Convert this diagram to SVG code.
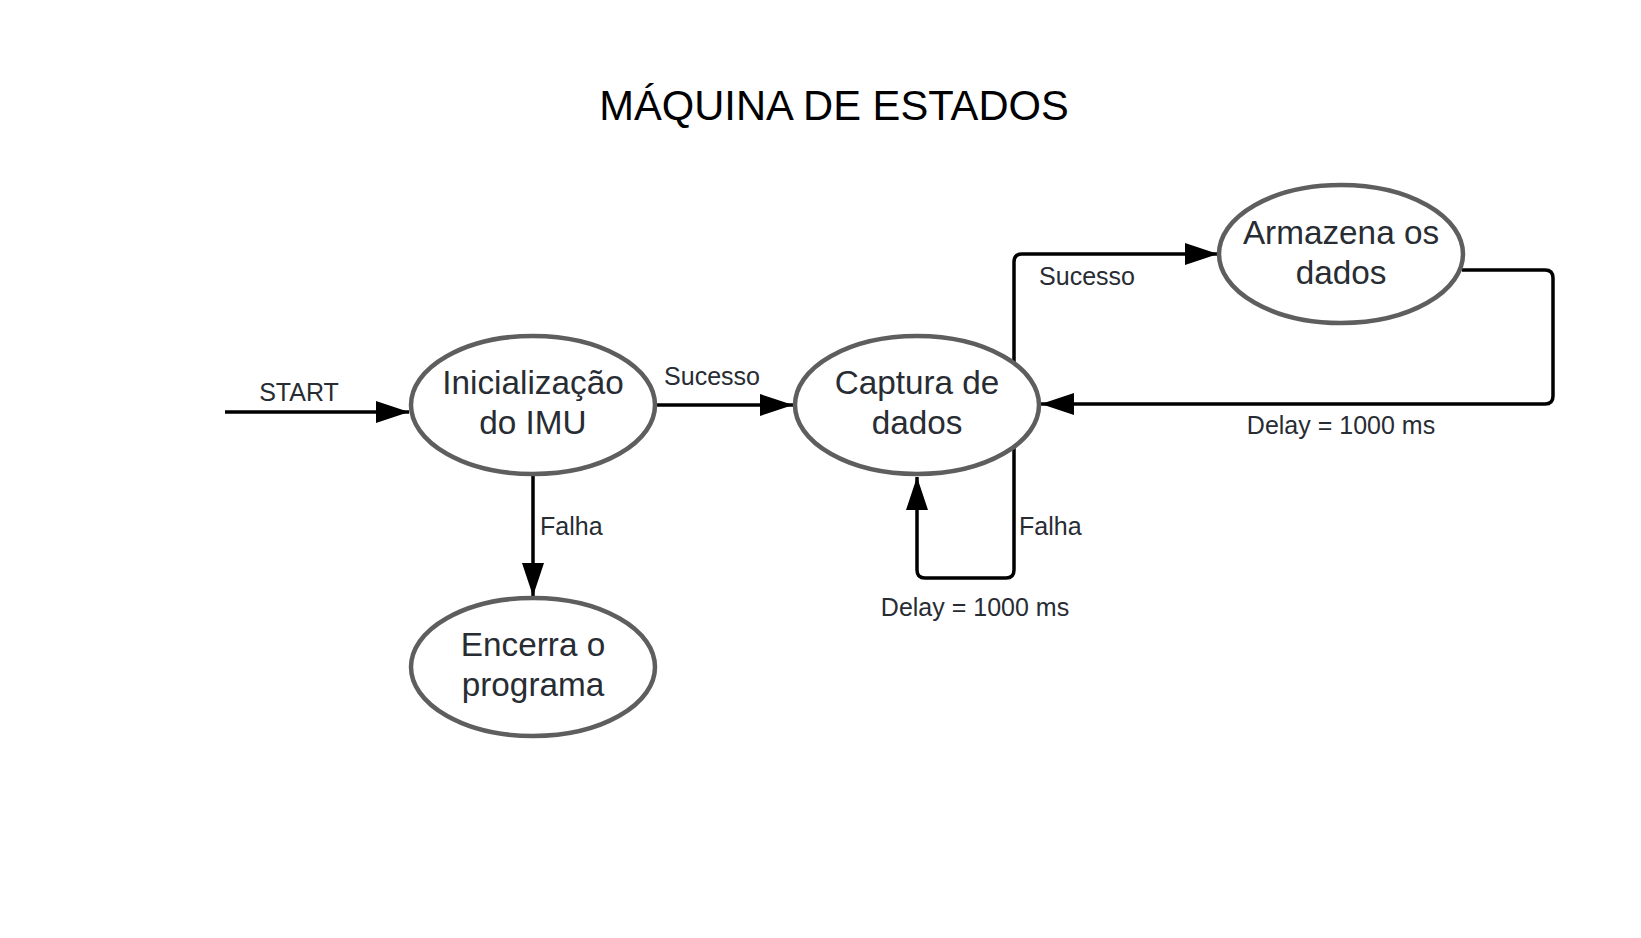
<svg xmlns="http://www.w3.org/2000/svg" width="1641" height="938" viewBox="0 0 1641 938">
<style>
.node ellipse{fill:#ffffff;stroke:#5e5e5e;stroke-width:4.5}
.node text{font-family:"Liberation Sans",Arial,sans-serif;font-size:33.3px;fill:#282c33;text-anchor:middle}
.edge{fill:none;stroke:#000000;stroke-width:3.5}
.lbl{font-family:"Liberation Sans",Arial,sans-serif;font-size:25px;fill:#282c33}
.title{font-family:"Liberation Sans",Arial,sans-serif;font-size:41.7px;fill:#000000;text-anchor:middle}
</style>
<defs>
<marker id="arr" viewBox="0 0 33 22" refX="33" refY="11" markerWidth="33" markerHeight="22" markerUnits="userSpaceOnUse" orient="auto">
<path d="M0,0 L33,11 L0,22 z" fill="#000000"/>
</marker>
</defs>
<rect width="1641" height="938" fill="#ffffff"/>
<text class="title" x="834" y="120">MÁQUINA DE ESTADOS</text>
<g id="connectors">
<path class="edge" d="M225,412 L409,412" marker-end="url(#arr)"/>
<path class="edge" d="M655,405 L793,405" marker-end="url(#arr)"/>
<path class="edge" d="M533,474 L533,596" marker-end="url(#arr)"/>
<path class="edge" d="M1014,363 L1014,262 Q1014,254 1022,254 L1218,254" marker-end="url(#arr)"/>
<path class="edge" d="M1462,270 L1545,270 Q1553,270 1553,278 L1553,396 Q1553,404 1545,404 L1041,404" marker-end="url(#arr)"/>
<path class="edge" d="M1014,447 L1014,570 Q1014,578 1006,578 L925,578 Q917,578 917,570 L917,477" marker-end="url(#arr)"/>
<text class="lbl" x="299" y="401" text-anchor="middle">START</text>
<text class="lbl" x="712" y="385" text-anchor="middle">Sucesso</text>
<text class="lbl" x="540" y="535">Falha</text>
<text class="lbl" x="1087" y="285" text-anchor="middle">Sucesso</text>
<text class="lbl" x="1341" y="434" text-anchor="middle">Delay = 1000 ms</text>
<text class="lbl" x="1019" y="535">Falha</text>
<text class="lbl" x="975" y="616" text-anchor="middle">Delay = 1000 ms</text>
</g>
<g id="node-inicializacao" class="node">
<ellipse cx="533" cy="405" rx="122" ry="69"/>
<text x="533" y="394">Inicialização</text>
<text x="533" y="434">do IMU</text>
</g>
<g id="node-captura" class="node">
<ellipse cx="917" cy="405" rx="122" ry="69"/>
<text x="917" y="394">Captura de</text>
<text x="917" y="434">dados</text>
</g>
<g id="node-armazena" class="node">
<ellipse cx="1341" cy="254" rx="122" ry="69"/>
<text x="1341" y="244">Armazena os</text>
<text x="1341" y="284">dados</text>
</g>
<g id="node-encerra" class="node">
<ellipse cx="533" cy="667" rx="122" ry="69"/>
<text x="533" y="656">Encerra o</text>
<text x="533" y="696">programa</text>
</g>
</svg>
